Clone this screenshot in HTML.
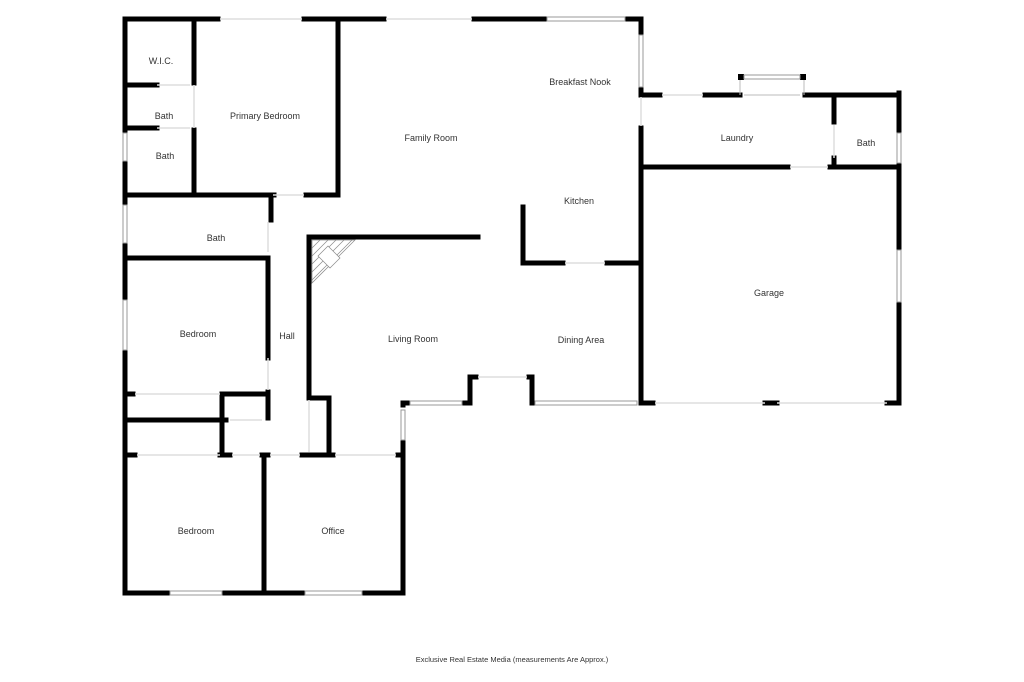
<!DOCTYPE html>
<html><head><style>
html,body{margin:0;padding:0;background:#fff;width:1024px;height:682px;overflow:hidden}
svg{display:block}
text{font-family:"Liberation Sans",sans-serif;font-size:9px;fill:#333;text-anchor:middle}
</style></head><body>
<svg width="1024" height="682" viewBox="0 0 1024 682">
<g stroke="#000" stroke-width="5" stroke-linecap="square" fill="none">
<path d="M125 19H218 M304 19H384 M474 19H545 M627 19H641"/>
<path d="M125 19V593 M125 593H168 M224 593H303 M364 593H403 M403 593V443 M403 405V403H408 M463 403H470V377H476 M529 377H532V403H535"/>
<path d="M641 19V33 M641 87V95 M641 128V403 M641 403H653 M765 403H777 M887 403H899 M899 403V302 M899 250V164 M899 133V93"/>
<path d="M641 95H660 M705 95H740 M805 95H899"/>
<path d="M834 95V122 M834 158V167 M643 167H788 M830 167H899"/>
<path d="M523 207V263H563 M607 263H641"/>
<path d="M309 237H478 M309 237V398H329V454"/>
<path d="M194 19V83 M194 130V195 M125 85H157 M125 128H157 M125 195H271 M271 195V220 M271 195H274 M306 195H338V19"/>
<path d="M125 258H268 M268 258V358 M268 392V418"/>
<path d="M125 394H133 M222 394H268 M222 394V455 M125 420H226"/>
<path d="M125 455H135 M220 455H230 M262 455H268 M302 455H333 M398 455H403 M264 455V593"/>
</g>
<g fill="#000"><rect x="738" y="74" width="6" height="6"/><rect x="800" y="74" width="6" height="6"/></g>
<g stroke="#999" stroke-width="1" fill="#fff">
<rect x="547" y="17" width="78" height="4"/>
<rect x="639" y="35" width="4" height="52"/>
<rect x="744" y="75" width="56" height="4"/>
<rect x="897" y="133" width="4" height="30"/>
<rect x="897" y="250" width="4" height="52"/>
<rect x="123" y="133" width="4" height="28"/>
<rect x="123" y="205" width="4" height="38"/>
<rect x="123" y="300" width="4" height="50"/>
<rect x="170" y="591" width="52" height="4"/>
<rect x="305" y="591" width="57" height="4"/>
<rect x="401" y="410" width="4" height="30"/>
<rect x="410" y="401" width="52" height="4"/>
<rect x="535" y="401" width="102" height="4"/>
</g>
<g stroke="#bbb" stroke-width="1">
<path d="M740 80V95 M804 80V95 M744 95H800"/>
</g>
<g stroke="#ddd" stroke-width="1.5">
<path d="M220 19H302 M386 19H472 M662 95H703 M790 167H828 M655 403H765 M777 403H887 M478 377H527 M565 263H605 M135 394H220 M230 420H262 M137 455H220 M232 455H260 M270 455H300 M335 455H396 M273 195H304 M157 85H190 M157 128H190 M194 85V128 M268 222V252 M268 358V390 M309 400V452 M834 125V158 M641 97V126"/>
</g>
<g stroke="#888" stroke-width="0.7" fill="none">
<path d="M312 240H355L312 283Z"/>
<path d="M320 240L312 248 M328 240L312 256 M336 240L312 264 M344 240L312 272 M352 240L312 280"/>
<path d="M318 256L328 246L340 258L330 268Z" fill="#fff"/>
</g>
<text x="161" y="64">W.I.C.</text>
<text x="164" y="119">Bath</text>
<text x="165" y="159">Bath</text>
<text x="265" y="119">Primary Bedroom</text>
<text x="431" y="141">Family Room</text>
<text x="580" y="85">Breakfast Nook</text>
<text x="737" y="141">Laundry</text>
<text x="866" y="146">Bath</text>
<text x="579" y="204">Kitchen</text>
<text x="216" y="241">Bath</text>
<text x="198" y="337">Bedroom</text>
<text x="287" y="339">Hall</text>
<text x="413" y="342">Living Room</text>
<text x="581" y="343">Dining Area</text>
<text x="769" y="296">Garage</text>
<text x="196" y="534">Bedroom</text>
<text x="333" y="534">Office</text>
<text x="512" y="662" style="font-size:7.5px">Exclusive Real Estate Media (measurements Are Approx.)</text>
</svg>
</body></html>
